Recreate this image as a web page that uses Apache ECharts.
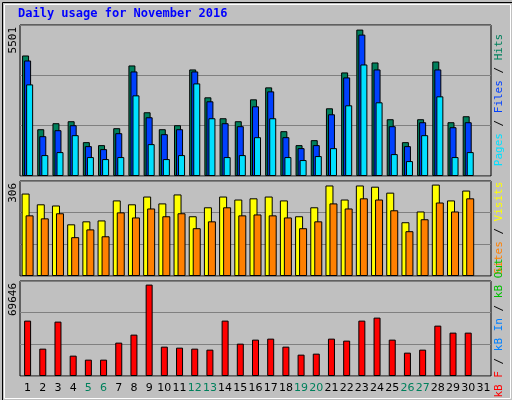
<!DOCTYPE html>
<html><head><meta charset="utf-8">
<script src="https://cdn.jsdelivr.net/npm/echarts@6/dist/echarts.min.js"></script>
<style>html,body{margin:0;padding:0;background:#c0c0c0}#c{width:512px;height:400px}</style>
</head><body><div id="c"></div>
<script>
const days = Array.from({length:31},(_,i)=>String(i+1));
const weekendDays = ['5','6','12','13','19','20','26','27'];
const hits  = [4528,1758,1983,2058,1272,1160,1796,4153,2395,1758,1908,4003,2956,2170,2058,2881,3330,1684,1160,1347,2544,3891,5501,4265,2133,1272,2133,4302,2020,2245,null];
const files = [4340,1496,1721,1908,1122,1010,1609,3928,2207,1571,1758,3928,2806,1983,1871,2619,3180,1459,1047,1160,2319,3704,5312,4003,1871,1122,2020,4003,1833,2020,null];
const pages = [3442,786,898,1534,711,636,711,3030,1197,636,786,3479,2170,711,786,1459,2170,711,599,748,1047,2656,4190,2768,823,561,1534,2993,711,898,null];
const visits= [276,240,236,173,183,186,253,240,266,243,273,200,230,266,256,260,266,253,200,230,303,256,303,299,279,180,216,306,253,286,null];
const sites = [203,193,210,130,156,133,213,196,226,200,210,160,183,230,203,206,203,196,160,183,243,226,260,256,220,150,190,246,216,260,null];
const kbytes= [42197,20844,41435,15506,12456,12456,25420,31521,69646,22370,21607,20844,20082,42197,24657,27708,28470,22370,16269,17031,28470,26945,42197,44485,27708,17794,20082,38384,33046,33046,null];
const maxLabels = ['5501','306','69646'];
const axisMax = [5673,318,72390];

const ch = echarts.init(document.getElementById('c'));
const grids = [{top:25,height:151},{top:181,height:95},{top:281,height:95}];
const bs = {borderColor:'#000',borderWidth:1};
const mono = 'DejaVu Sans Mono';
ch.setOption({
  animation:false,
  backgroundColor:'#c0c0c0',
  grid: grids.map(g=>({left:20,right:21,top:g.top,height:g.height,show:true,backgroundColor:'#c0c0c0',borderColor:'#000',borderWidth:1})),
  xAxis: [0,1,2].map(i=>({type:'category',gridIndex:i,data:days,
    axisLine:{show:false},axisTick:{show:false},
    axisLabel:{show:i===2,fontFamily:'DejaVu Sans',fontSize:11,margin:7,interval:0,
      color:(v)=>weekendDays.includes(v)?'#00805c':'#000'}})),
  yAxis: [0,1,2].map(i=>({type:'value',gridIndex:i,min:0,max:axisMax[i],interval:axisMax[i]/3,
    axisLabel:{show:false},axisLine:{show:false},axisTick:{show:false},
    splitLine:{show:true,lineStyle:{color:'#808080',width:1}}})),
  series:[
    {type:'bar',xAxisIndex:0,yAxisIndex:0,data:hits,barWidth:7,barGap:'-71%',itemStyle:{color:'#00805c',...bs}},
    {type:'bar',xAxisIndex:0,yAxisIndex:0,data:files,barWidth:7,barGap:'-71%',itemStyle:{color:'#0040ff',...bs}},
    {type:'bar',xAxisIndex:0,yAxisIndex:0,data:pages,barWidth:7,barGap:'-71%',itemStyle:{color:'#00e0ff',...bs}},
    {type:'bar',xAxisIndex:1,yAxisIndex:1,data:visits,barWidth:8,barGap:'-50%',itemStyle:{color:'#ffff00',...bs}},
    {type:'bar',xAxisIndex:1,yAxisIndex:1,data:sites,barWidth:8,barGap:'-50%',itemStyle:{color:'#ff8000',...bs}},
    {type:'bar',xAxisIndex:2,yAxisIndex:2,data:kbytes,barWidth:7,itemStyle:{color:'#ff0000',...bs}}
  ],
  graphic:[
    {type:'rect',left:0,top:0,shape:{width:511,height:399},style:{fill:'none',stroke:'#000',lineWidth:1}},
    {type:'rect',left:2,top:2,shape:{width:506,height:394},style:{fill:'none',stroke:'#fff',lineWidth:1}},
    {type:'text',left:18,top:8,style:{text:'Daily usage for November 2016',fill:'#0000ff',font:'bold 12px "DejaVu Sans Mono"'}},
    ...[0,1,2].map(i=>({type:'text',x:8,y:grids[i].top+2,rotation:Math.PI/2,
      style:{text:maxLabels[i],fill:'#000',font:'11px "DejaVu Sans Mono"',align:'right',verticalAlign:'top'}})),
    {type:'text',x:494,y:100,rotation:Math.PI/2,style:{
      text:'{c|Pages}{k| / }{b|Files}{k| / }{g|Hits}',align:'center',verticalAlign:'top',font:'11px "DejaVu Sans Mono"',
      rich:{c:{fill:'#00e0ff',fontFamily:mono,fontSize:11},b:{fill:'#0040ff',fontFamily:mono,fontSize:11},g:{fill:'#00805c',fontFamily:mono,fontSize:11},k:{fill:'#000',fontFamily:mono,fontSize:11}}}},
    {type:'text',x:494,y:228,rotation:Math.PI/2,style:{
      text:'{o|Sites}{k| / }{y|Visits}',align:'center',verticalAlign:'top',font:'11px "DejaVu Sans Mono"',
      rich:{o:{fill:'#ff8000',fontFamily:mono,fontSize:11},y:{fill:'#ffff00',fontFamily:mono,fontSize:11},k:{fill:'#000',fontFamily:mono,fontSize:11}}}},
    {type:'text',x:494,y:328,rotation:Math.PI/2,style:{
      text:'{r|kB F}{k| / }{b|kB In}{k| / }{g|kB Out}',align:'center',verticalAlign:'top',font:'11px "DejaVu Sans Mono"',
      rich:{r:{fill:'#ff0000',fontFamily:mono,fontSize:11},b:{fill:'#0080ff',fontFamily:mono,fontSize:11},g:{fill:'#00c000',fontFamily:mono,fontSize:11},k:{fill:'#000',fontFamily:mono,fontSize:11}}}}
  ]
});
</script></body></html>
